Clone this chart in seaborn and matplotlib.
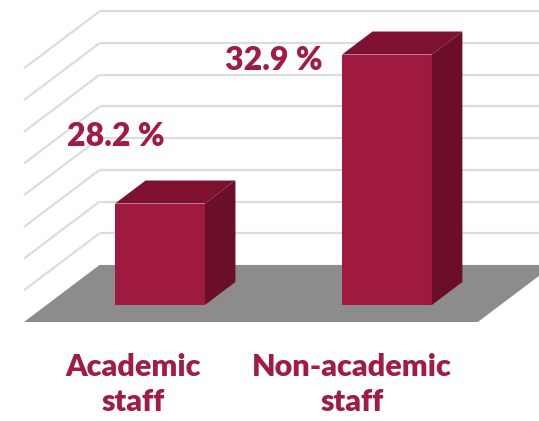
import matplotlib
matplotlib.use("Agg")
import matplotlib.pyplot as plt
import seaborn as sns
import pandas as pd
from matplotlib.patches import Polygon

# ---- data ----
categories = ["Academic\nstaff", "Non-academic\nstaff"]
values = [28.2, 32.9]
value_labels = ["28.2 %", "32.9 %"]
baseline = 25
grid_values = [26, 27, 28, 29, 30, 31, 32, 33]

# ---- style ----
FRONT = "#A0193F"
TOP = "#7E1131"
SIDE = "#6A0F27"
TEXT = "#A01C45"
FLOOR = "#8C8C8C"
GRID = "#DCDCDC"

sns.set_theme(style="white")
plt.rcParams['font.family'] = ['Lato', 'DejaVu Sans']

fig = plt.figure(figsize=(5.39, 4.21), dpi=100)
ax = fig.add_axes([0, 0, 1, 1])

df = pd.DataFrame({"category": categories,
                   "height": [v - baseline for v in values]})
sns.barplot(data=df, x="category", y="height", bottom=baseline, color=FRONT,
            saturation=1, width=0.396, ax=ax, zorder=3, linewidth=0)
bars = list(ax.patches)

XMIN, XMAX = -0.705, 1.670
ax.set_xlim(XMIN, XMAX)
ax.set_ylim(21.34, 34.62)
ax.axis('off')

# oblique depth vector (one bar depth) in data units
DX, DY = 0.1344, 0.7256
F0, F1 = -0.74, 1.74      # floor front / back wall depth
XL, XR = -0.5, 1.5

# floor
ax.add_patch(Polygon([(XL + F0 * DX, baseline + F0 * DY),
                      (XR + F0 * DX, baseline + F0 * DY),
                      (XR + F1 * DX, baseline + F1 * DY),
                      (XL + F1 * DX, baseline + F1 * DY)],
                     closed=True, fc=FLOOR, ec='none', zorder=1))

# gridlines: back wall + left wall
for v in grid_values:
    ax.plot([XL + F1 * DX, XMAX], [v + F1 * DY, v + F1 * DY],
            color=GRID, lw=1.6, zorder=0.5, solid_capstyle='butt')
    ax.plot([XL + F0 * DX, XL + F1 * DX], [v + F0 * DY, v + F1 * DY],
            color=GRID, lw=1.6, zorder=0.5, solid_capstyle='butt')

# 3D faces of the bars
for b in bars:
    x0, w = b.get_x(), b.get_width()
    y0, h = b.get_y(), b.get_height()
    top = y0 + h
    ax.add_patch(Polygon([(x0, top), (x0 + w, top),
                          (x0 + w + DX, top + DY), (x0 + DX, top + DY)],
                         closed=True, fc=TOP, ec='none', zorder=3))
    ax.add_patch(Polygon([(x0 + w, y0), (x0 + w, top),
                          (x0 + w + DX, top + DY), (x0 + w + DX, y0 + DY)],
                         closed=True, fc=SIDE, ec='none', zorder=3))

# value labels
label_dx = [-0.194, -0.498]
label_y = [30.30, 32.70]
for i, b in enumerate(bars):
    cx = b.get_x() + b.get_width() / 2
    ax.text(cx + label_dx[i], label_y[i], value_labels[i], color=TEXT,
            fontsize=23, fontweight='heavy', ha='center', va='center', zorder=5)

# category labels
cat_dx = [-0.119, -0.154]
for i, b in enumerate(bars):
    cx = b.get_x() + b.get_width() / 2
    ax.text(cx + cat_dx[i], 22.48, categories[i], color=TEXT, fontsize=22,
            fontweight='heavy', ha='center', va='center', multialignment='center',
            linespacing=1.3, zorder=5)

fig.savefig("out.png", dpi=100)
